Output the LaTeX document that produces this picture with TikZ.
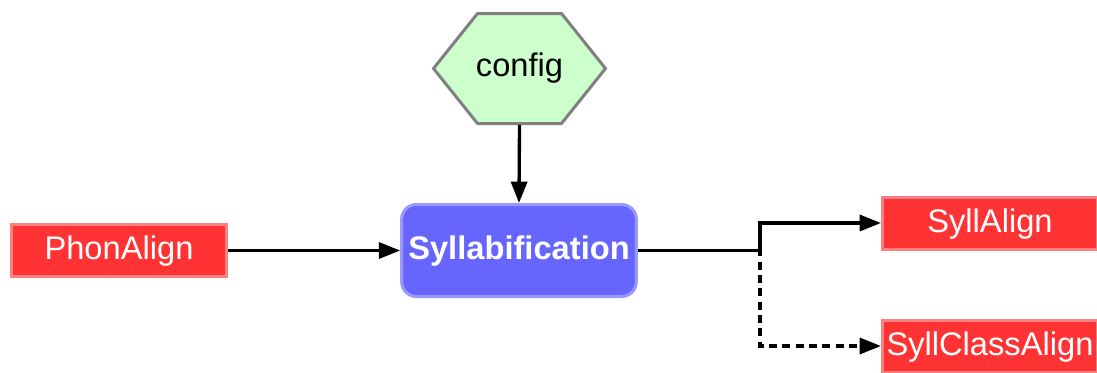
\documentclass[tikz,border=0pt]{standalone}
\usepackage{fontspec}
\setmainfont{Liberation Sans}
\usetikzlibrary{arrows.meta}

\begin{document}
\begin{tikzpicture}[x=0.75pt, y=-0.75pt, >={Triangle[length=16pt,width=12pt]},
  font=\fontsize{24.5}{28}\selectfont,
  databox/.style={draw=red!50!white, fill=red!80!white, line width=2.25pt, text=white,
    minimum width=161.25pt, minimum height=39pt, inner sep=0pt, text height=17.5pt, text depth=4pt},
  procbox/.style={draw=blue!40!white, fill=blue!60!white, line width=2.25pt, text=white,
    font=\fontsize{24.5}{28}\selectfont\bfseries, rounded corners=11pt,
    minimum width=176pt, minimum height=69pt, inner sep=0pt, text height=17.5pt, text depth=4pt},
  hexa/.style={draw=black!50, fill=green!20!white, line width=2.25pt},
  link/.style={->, line width=2.5pt}]
  \useasboundingbox (0,0) rectangle (1097,372);
  \clip (0,0) rectangle (1097,372);
  \coordinate (c) at (519.5,68.5);
  \draw[hexa, shift={(c)}] (-86,0) -- (-42,-55) -- (42,-55) -- (86,0) -- (42,55) -- (-42,55) -- cycle;
  \node[minimum width=129pt, minimum height=84pt, inner sep=0pt] (config) at (c) {config};
  \node[procbox] (syl) at (519,250.5) {Syllabification};
  \node[databox] (phon) at (119,250.5) {PhonAlign};
  \node[databox] (sa) at (990,223) {SyllAlign};
  \node[databox] (sca) at (990,346) {SyllClassAlign};
  \coordinate (split) at (760,250.5);
  \draw[link] (config.south) -- (syl.north);
  \draw[link] (phon.east) -- (syl.west);
  \draw[link] (syl.east) -- (split) |- (sa.west);
  \draw[link, dashed, dash pattern=on 6pt off 4pt] (syl.east) -- (split) |- (sca.west);
\end{tikzpicture}
\end{document}
